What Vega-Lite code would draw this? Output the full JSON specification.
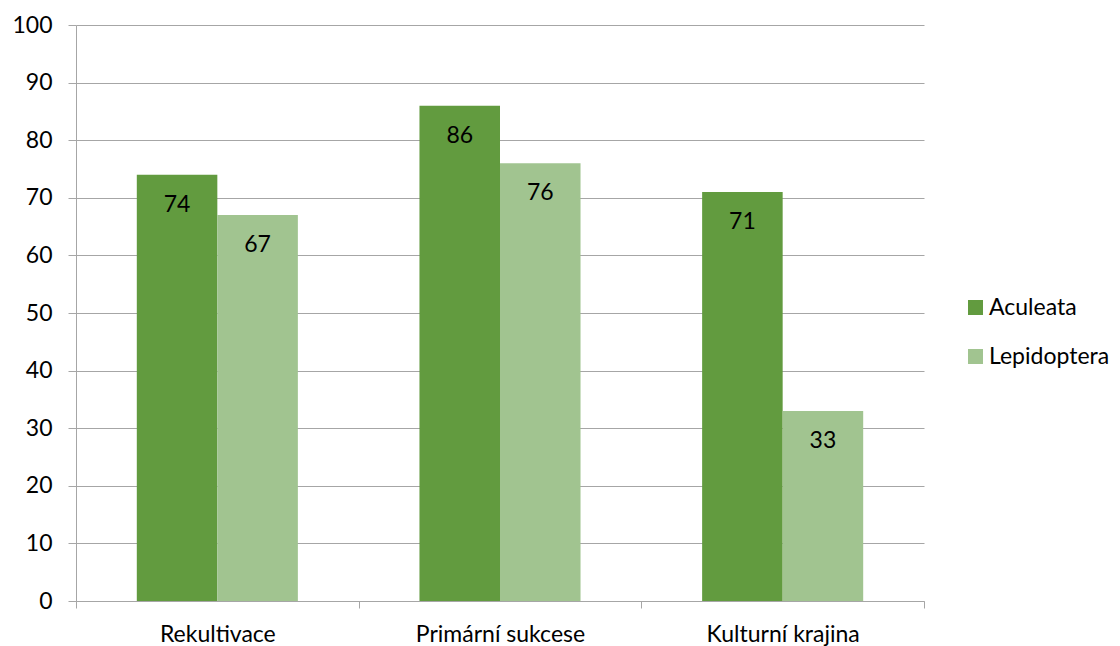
{
  "$schema": "https://vega.github.io/schema/vega-lite/v6.json",
  "width": 848,
  "height": 576,
  "autosize": {"type": "none"},
  "padding": {"left": 76, "top": 25, "right": 196, "bottom": 45},
  "background": "white",
  "config": {
    "font": "Lato",
    "view": {"stroke": null},
    "axis": {"labelFont": "Lato", "labelFontSize": 23, "labelColor": "#000000", "titleFont": "Lato"},
    "legend": {"labelFont": "Lato", "labelFontSize": 23, "labelColor": "#000000"}
  },
  "data": {
    "values": [
      {"kategorie": "Rekultivace", "skupina": "Aculeata", "hodnota": 74},
      {"kategorie": "Rekultivace", "skupina": "Lepidoptera", "hodnota": 67},
      {"kategorie": "Primární sukcese", "skupina": "Aculeata", "hodnota": 86},
      {"kategorie": "Primární sukcese", "skupina": "Lepidoptera", "hodnota": 76},
      {"kategorie": "Kulturní krajina", "skupina": "Aculeata", "hodnota": 71},
      {"kategorie": "Kulturní krajina", "skupina": "Lepidoptera", "hodnota": 33}
    ]
  },
  "encoding": {
    "x": {
      "field": "kategorie",
      "type": "nominal",
      "sort": null,
      "scale": {"paddingInner": 0, "paddingOuter": 0},
      "axis": {
        "title": null,
        "labelAngle": 0,
        "tickBand": "extent",
        "tickSize": 7,
        "tickColor": "#a6a6a6",
        "domainColor": "#a6a6a6",
        "labelPadding": 15,
        "grid": false
      }
    },
    "xOffset": {
      "field": "skupina",
      "type": "nominal",
      "scale": {"paddingOuter": 0.755, "paddingInner": 0}
    },
    "y": {
      "field": "hodnota",
      "type": "quantitative",
      "scale": {"domain": [0, 100], "nice": false},
      "axis": {
        "title": null,
        "values": [0, 10, 20, 30, 40, 50, 60, 70, 80, 90, 100],
        "grid": true,
        "gridColor": "#a6a6a6",
        "domainColor": "#a6a6a6",
        "tickColor": "#a6a6a6",
        "tickSize": 8,
        "labelPadding": 16
      }
    }
  },
  "layer": [
    {
      "mark": {"type": "bar"},
      "encoding": {
        "color": {
          "field": "skupina",
          "type": "nominal",
          "scale": {"domain": ["Aculeata", "Lepidoptera"], "range": ["#629b3f", "#a1c490"]},
          "legend": {
            "title": null,
            "orient": "none",
            "legendX": 888,
            "legendY": 271,
            "symbolType": "square",
            "symbolSize": 225,
            "symbolStrokeWidth": 0,
            "symbolOpacity": 1,
            "labelOffset": 2,
            "rowPadding": 25
          }
        }
      }
    },
    {
      "mark": {"type": "text", "baseline": "top", "dy": 19, "fontSize": 23, "font": "Lato", "color": "#000000"},
      "encoding": {
        "text": {"field": "hodnota", "type": "quantitative"}
      }
    }
  ]
}
